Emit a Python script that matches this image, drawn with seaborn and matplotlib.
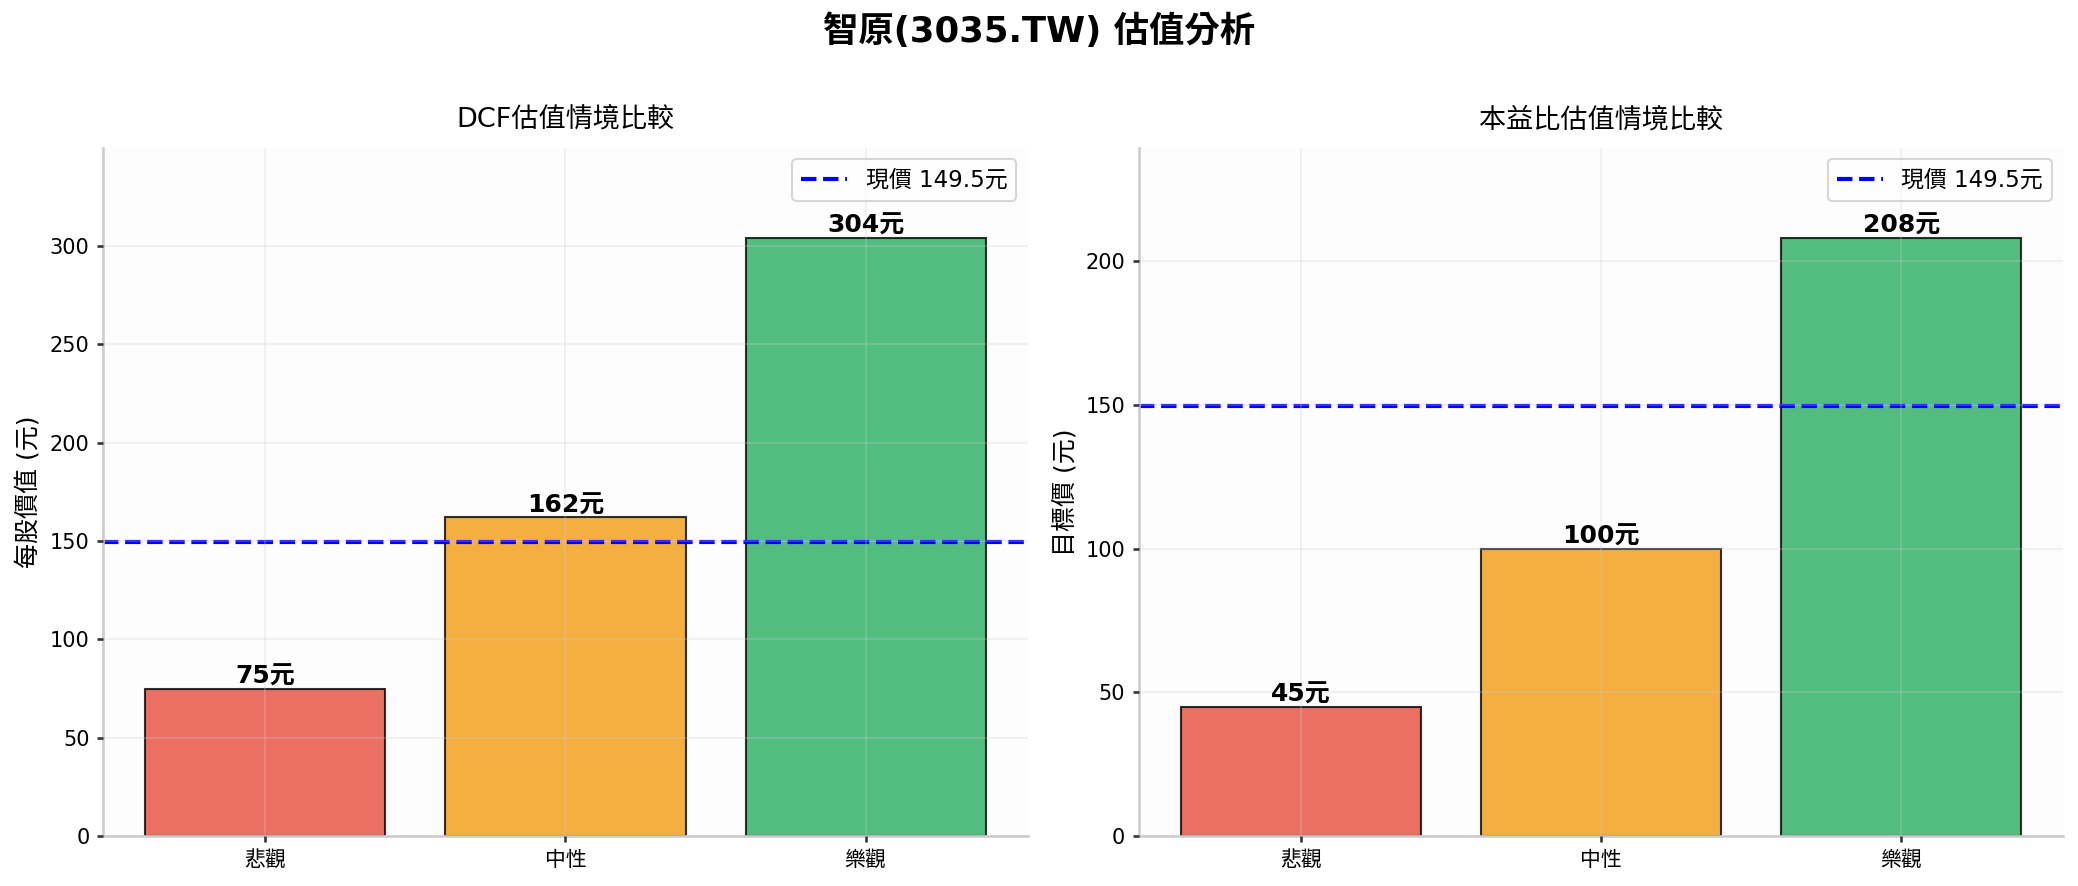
import matplotlib
matplotlib.use('Agg')
import matplotlib.pyplot as plt
import seaborn as sns
import pandas as pd

# Data
scenarios = ['悲觀', '中性', '樂觀']
dcf_values = [75, 162, 304]
pe_values = [45, 100, 208]
current_price = 149.5
bar_colors = ['#e74c3c', '#f39c12', '#27ae60']

sns.set_theme(style="whitegrid")
plt.rcParams['font.family'] = ['DejaVu Sans', 'Noto Sans CJK TC']
plt.rcParams['axes.unicode_minus'] = False
plt.rcParams['xtick.bottom'] = True
plt.rcParams['ytick.left'] = True
for key in ['text.color', 'axes.labelcolor', 'xtick.color', 'ytick.color']:
    plt.rcParams[key] = 'black'

fig, axes = plt.subplots(1, 2, figsize=(2078 / 150, 886 / 150), dpi=150)
fig.subplots_adjust(left=0.0496, right=0.993, bottom=0.056, top=0.833, wspace=0.12)
fig.suptitle('智原(3035.TW) 估值分析', fontsize=17, fontweight='bold', y=0.985)

panels = [
    (axes[0], dcf_values, 'DCF估值情境比較', '每股價值 (元)'),
    (axes[1], pe_values, '本益比估值情境比較', '目標價 (元)'),
]

for ax, values, title, ylabel in panels:
    df = pd.DataFrame({'情境': scenarios, '價值': values})
    sns.barplot(data=df, x='情境', y='價值', hue='情境', palette=bar_colors,
                saturation=1, alpha=0.8, edgecolor='black', linewidth=1,
                width=0.8, legend=False, ax=ax)
    ax.axhline(current_price, color='blue', linestyle='--', linewidth=2,
               label=f'現價 {current_price}元')
    for i, v in enumerate(values):
        ax.text(i, v, f'{v:.0f}元', ha='center', va='bottom',
                fontsize=12, fontweight='bold')
    n = len(values)
    pad = 0.05 * (n - 1 + 0.8)
    ax.set_xlim(-0.4 - pad, n - 1 + 0.4 + pad)
    ax.set_title(title, fontsize=13, pad=10)
    ax.set_xlabel('')
    ax.set_ylabel(ylabel, fontsize=12)
    ax.set_ylim(0, max(values) * 1.15)
    ax.set_facecolor('#fdfdfd')
    ax.set_axisbelow(False)
    ax.grid(True, alpha=0.25)
    ax.tick_params(axis='both', labelsize=10, length=3, color='#333333')
    ax.legend(loc='upper right', fontsize=11)
    sns.despine(ax=ax)
    for s in ['left', 'bottom']:
        ax.spines[s].set_color('#cccccc')

plt.savefig('out.png', dpi=150)
